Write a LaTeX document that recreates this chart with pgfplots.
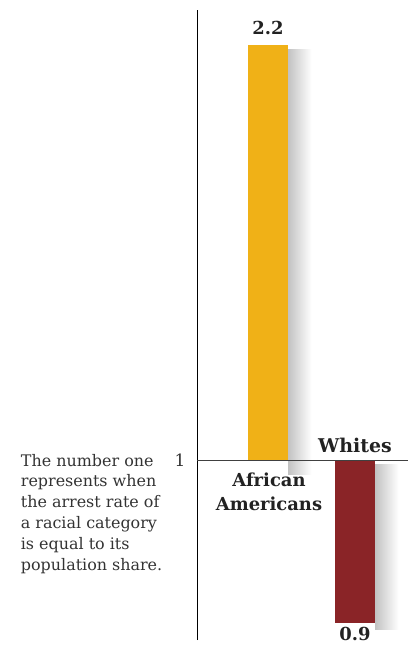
\documentclass[border=0pt]{standalone}
\usepackage{pgfplots}
\pgfplotsset{compat=1.18}
\usepackage{fontspec}
\setmainfont{DejaVu Serif}
\definecolor{barA}{HTML}{F0B117}
\definecolor{barW}{HTML}{8A2427}
\definecolor{txt}{HTML}{222222}
\definecolor{ptxt}{HTML}{333333}
\begin{document}
\begin{tikzpicture}
\path[use as bounding box] (0,0) rectangle (408bp,646bp);
\begin{axis}[
  at={(197bp,6bp)}, anchor=south west,
  scale only axis, width=211bp, height=630bp,
  xmin=-0.816, xmax=1.609,
  ymin=0.8895, ymax=2.3011,
  y coord trafo/.code={\pgfmathparse{#1>=1 ? (#1-1)*346.4 : (#1-1)*1623}},
  axis x line=none, axis y line=left,
  axis line style={-, black, line width=0.7pt},
  xtick=\empty, ytick={1}, yticklabels={\textrm{1}},
  major tick length=0pt,
  yticklabel style={font=\fontsize{17}{17}\selectfont, text=ptxt, xshift=-8bp},
  clip=false,
]
% soft shadows
\addplot[draw=none, left color=black!24, right color=white] coordinates {(0.23,0.9912) (0.23,2.1856) (0.50,2.1856) (0.50,0.9912)} --cycle;
\addplot[draw=none, left color=black!24, right color=white] coordinates {(1.23,0.8957) (1.23,0.9974) (1.50,0.9974) (1.50,0.8957)} --cycle;
% bars
\addplot[fill=barA, draw=none] coordinates {(-0.23,1) (-0.23,2.2) (0.23,2.2) (0.23,1)} --cycle;
\addplot[fill=barW, draw=none] coordinates {(0.77,1) (0.77,0.9) (1.23,0.9) (1.23,1)} --cycle;
\draw[black!75, line width=1.3pt] (axis cs:-0.816,1) -- (axis cs:1.609,1);
\node[anchor=base, font=\bfseries\fontsize{18}{18}\selectfont, text=txt, inner sep=0pt, yshift=11bp] at (axis cs:0,2.2) {2.2};
\node[anchor=base, font=\bfseries\fontsize{18}{18}\selectfont, text=txt, inner sep=0pt, yshift=-18bp] at (axis cs:1,0.9) {0.9};
\node[anchor=base, font=\bfseries\fontsize{19}{19}\selectfont, text=txt, inner sep=0pt, yshift=7.7bp] at (axis cs:1,1) {Whites};
\node[anchor=base, align=center, font=\bfseries\fontsize{18}{24.3}\selectfont, text=txt, inner sep=0pt, yshift=-50.3bp, xshift=1bp] at (axis cs:0,1) {African\\Americans};
\node[anchor=base west, align=left, font=\fontsize{16}{21}\selectfont, text=ptxt, inner sep=0pt, xshift=-176.3bp, yshift=-110bp] at (axis cs:-0.816,1) {The number one\\represents when\\the arrest rate of\\a racial category\\is equal to its\\population share.};
\end{axis}
\end{tikzpicture}
\end{document}
